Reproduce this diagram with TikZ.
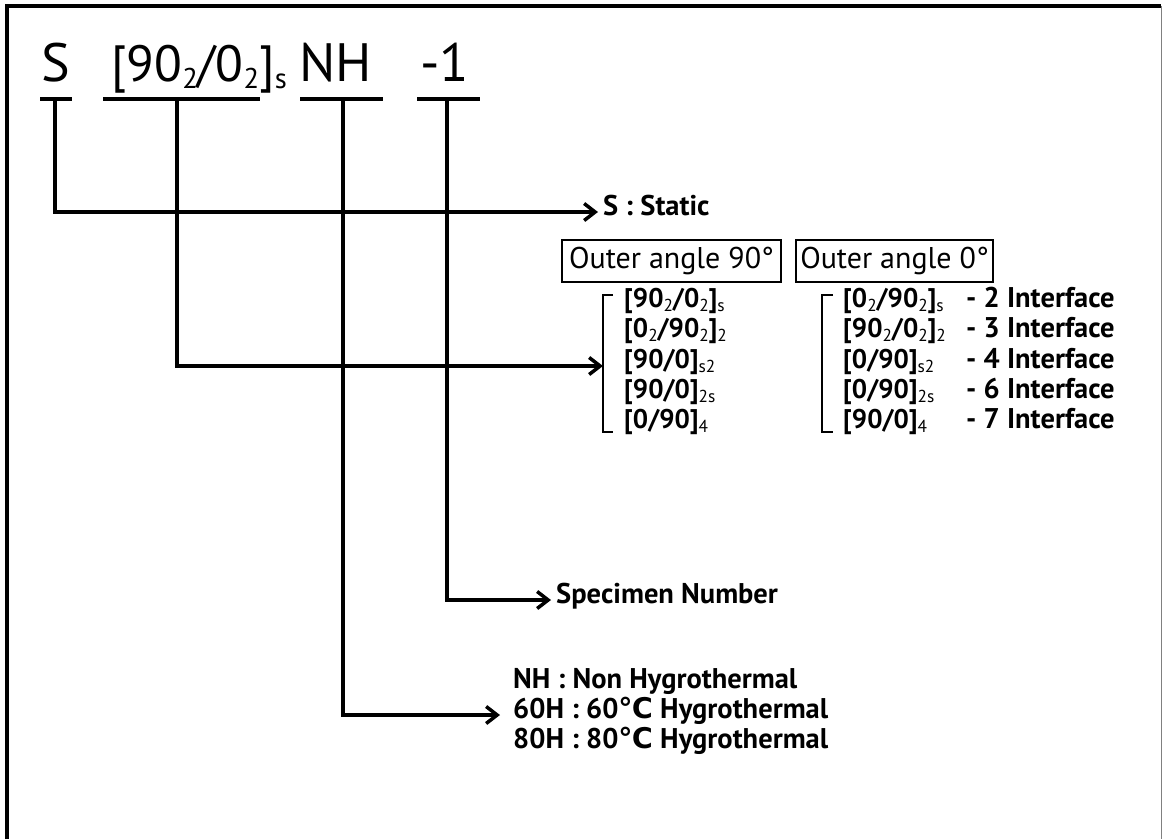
\documentclass[tikz,border=0pt]{standalone}
\usepackage{fontspec}
\usepackage{graphicx}
\setmainfont{PT Sans}
\newfontfamily\dejavu{DejaVu Sans}
\usetikzlibrary{arrows.meta}
\newcommand\lo[1]{\raisebox{-0.17em}{\scalebox{0.64}{\mdseries #1}}}
\newcommand\tlo[1]{\raisebox{-0.14em}{\scalebox{0.56}{#1}}}
\newcommand\degC{{\dejavu\bfseries ℃}}
\begin{document}
\begin{tikzpicture}[x=1pt,y=-1pt,
  conn/.style={line width=3.5pt},
  arr/.style={line width=3.5pt,-{Straight Barb[length=11pt,width=17pt]}},
  toptext/.style={font=\fontsize{54}{60}\selectfont, inner sep=0pt, anchor=base west},
  lab/.style={font=\fontsize{28.5}{32}\selectfont\bfseries, inner ysep=0pt, inner xsep=5pt, anchor=west, text height=0.7em, text depth=0pt},
  item/.style={font=\fontsize{28.5}{32}\selectfont\bfseries, inner sep=0pt, anchor=base west},
  formula/.style={item, font=\fontsize{27}{32}\selectfont\bfseries},
  box/.style={draw, line width=2pt, minimum height=42pt, inner sep=0pt, font=\fontsize{30}{34}\selectfont},
  brk/.style={line width=2.5pt}]
\useasboundingbox (0,0) rectangle (1163,839);
% frame
\draw[line width=4pt] (7,839) -- (7,6) -- (1161,6);
\draw[line width=1.2pt, gray] (1161.5,6) -- (1161.5,839);
% top code
\node[toptext] (tS) at (41,81) {S};
\node[toptext, font=\fontsize{51}{58}\selectfont] (tL) at (111,81) {[90\tlo{2}/0\tlo{2}]\tlo{s}};
\node[toptext] (tNH) at (299,81) {NH};
\node[toptext] (tN) at (420,81) {-1};
% underlines
\draw[conn] (40,99) -- (72,99);
\draw[conn] (103,99) -- (260,99);
\draw[conn] (300,99) -- (383,99);
\draw[conn] (417,99) -- (480,99);
\coordinate (uS) at (55,99);
\coordinate (uL) at (177,99);
\coordinate (uNH) at (343,99);
\coordinate (uN) at (447,99);
% labels
\node[lab] (static) at (598,212) {S : Static};
\node[lab] (spec) at (551,600) {Specimen Number};
\node[lab, inner xsep=13pt] (hNH) at (500,685) {NH : Non Hygrothermal};
\node[lab, inner xsep=13pt] (h60) at (500,715) {60H : 60\degC{} Hygrothermal};
\node[lab, inner xsep=13pt] (h80) at (500,745) {80H : 80\degC{} Hygrothermal};
% boxes
\node[box, minimum width=219pt] (b90) at (671.5,261) {Outer angle 90°};
\node[box, minimum width=197pt] (b0) at (894.5,261) {Outer angle 0°};
% brackets
\draw[brk] (613,295) -- (603,295) -- (603,432) -- (613,432);
\draw[brk] (833,295) -- (822,295) -- (822,432) -- (833,432);
\coordinate (brL) at (603,366);
% left column
\node[formula] (l1) at (624,307) {[90\lo{2}/0\lo{2}]\lo{s}};
\node[formula] (l2) at (624,337) {[0\lo{2}/90\lo{2}]\lo{2}};
\node[formula] (l3) at (624,368) {[90/0]\lo{s2}};
\node[formula] (l4) at (624,398) {[90/0]\lo{2s}};
\node[formula] (l5) at (624,428) {[0/90]\lo{4}};
% right column
\node[formula] (r1) at (843,307) {[0\lo{2}/90\lo{2}]\lo{s}};
\node[formula] (r2) at (843,337) {[90\lo{2}/0\lo{2}]\lo{2}};
\node[formula] (r3) at (843,368) {[0/90]\lo{s2}};
\node[formula] (r4) at (843,398) {[0/90]\lo{2s}};
\node[formula] (r5) at (843,428) {[90/0]\lo{4}};
\node[item] (i1) at (966,307) {- 2 Interface};
\node[item] (i2) at (966,337) {- 3 Interface};
\node[item] (i3) at (966,368) {- 4 Interface};
\node[item] (i4) at (966,398) {- 6 Interface};
\node[item] (i5) at (966,428) {- 7 Interface};
% connectors
\draw[arr] (uS) |- (static.west);
\draw[arr] (uL) |- (brL);
\draw[arr] (uN) |- (spec.west);
\draw[arr] (uNH) |- (h60.west);
\end{tikzpicture}
\end{document}
